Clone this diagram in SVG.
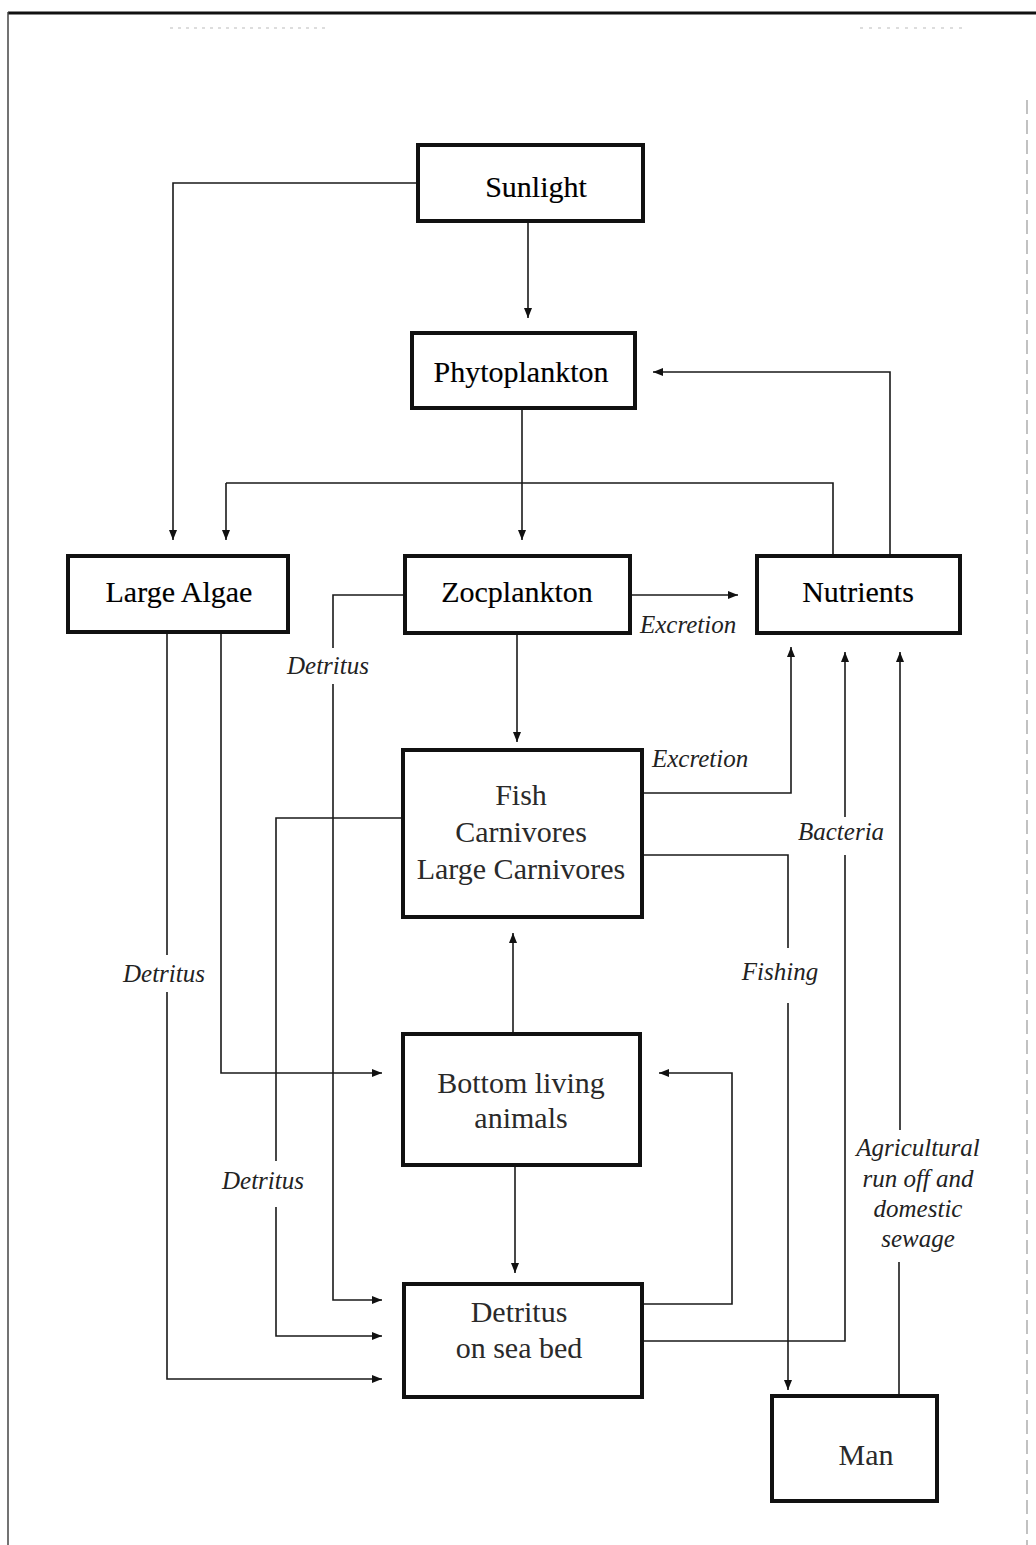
<svg xmlns="http://www.w3.org/2000/svg" width="1036" height="1545" viewBox="0 0 1036 1545">
<defs>
<marker id="ah" markerUnits="userSpaceOnUse" markerWidth="10" markerHeight="8" refX="10" refY="4" orient="auto">
<path d="M0,0 L10,4 L0,8 z" fill="#111"/>
</marker>
<style>
.box{fill:#fff;stroke:#111;stroke-width:4}
.lbl{font-family:"Liberation Serif","Times New Roman",serif;font-size:30px;fill:#000;stroke:#000;stroke-width:0.15;text-anchor:middle}
.lbl2{font-family:"Liberation Serif","Times New Roman",serif;font-size:30px;fill:#2a2a2a;text-anchor:middle}
.el{font-family:"Liberation Serif","Times New Roman",serif;font-size:25px;font-style:italic;fill:#222}
.c{fill:none;stroke:#1a1a1a;stroke-width:1.6}
.a{fill:none;stroke:#1a1a1a;stroke-width:1.6;marker-end:url(#ah)}
</style>
</defs>
<rect x="0" y="0" width="1036" height="1545" fill="#fff"/>
<g id="frame">
<line x1="8" y1="13" x2="1036" y2="13" stroke="#111" stroke-width="3"/>
<line x1="8" y1="12" x2="8" y2="1545" stroke="#444" stroke-width="1.5"/>
<line x1="1027" y1="100" x2="1027" y2="1545" stroke="#999" stroke-width="1.2" stroke-dasharray="14 6"/>
<line x1="170" y1="28" x2="330" y2="28" stroke="#bbb" stroke-width="1" stroke-dasharray="3 5"/>
<line x1="860" y1="28" x2="965" y2="28" stroke="#bbb" stroke-width="1" stroke-dasharray="3 6"/>
</g>
<g id="connectors">
<polyline class="a" points="418,183 173,183 173,540"/>
<polyline class="a" points="528,221 528,318"/>
<polyline class="a" points="522,408 522,540"/>
<polyline class="c" points="833,556 833,483 226,483"/>
<polyline class="a" points="226,483 226,540"/>
<polyline class="a" points="890,556 890,372 653,372"/>
<polyline class="a" points="630,595 738,595"/>
<polyline class="a" points="517,633 517,742"/>
<polyline class="c" points="405,595 333,595 333,648"/>
<polyline class="a" points="333,684 333,1300 382,1300"/>
<polyline class="a" points="221,632 221,1073 382,1073"/>
<polyline class="c" points="167,632 167,955"/>
<polyline class="a" points="167,992 167,1379 382,1379"/>
<polyline class="c" points="403,818 276,818 276,1161"/>
<polyline class="a" points="276,1207 276,1336 382,1336"/>
<polyline class="a" points="642,793 791,793 791,647"/>
<polyline class="c" points="642,855 788,855 788,948"/>
<polyline class="a" points="788,1003 788,1390"/>
<polyline class="a" points="513,1033 513,933"/>
<polyline class="a" points="515,1165 515,1273"/>
<polyline class="a" points="642,1304 732,1304 732,1073 659,1073"/>
<polyline class="c" points="642,1341 845,1341 845,855"/>
<polyline class="a" points="845,817 845,652"/>
<polyline class="c" points="899,1395 899,1262"/>
<polyline class="a" points="900,1130 900,652"/>
<text class="el" x="640" y="633">Excretion</text>
<text class="el" x="328" y="674" text-anchor="middle">Detritus</text>
<text class="el" x="652" y="767">Excretion</text>
<text class="el" x="798" y="840">Bacteria</text>
<text class="el" x="164" y="982" text-anchor="middle">Detritus</text>
<text class="el" x="780" y="980" text-anchor="middle">Fishing</text>
<text class="el" x="263" y="1189" text-anchor="middle">Detritus</text>
<text class="el" x="918" y="1156" text-anchor="middle">Agricultural</text>
<text class="el" x="918" y="1187" text-anchor="middle">run off and</text>
<text class="el" x="918" y="1217" text-anchor="middle">domestic</text>
<text class="el" x="918" y="1247" text-anchor="middle">sewage</text>
</g>
<g id="sunlight">
<rect class="box" x="418" y="145" width="225" height="76"/>
<text class="lbl" x="536" y="197">Sunlight</text>
</g>
<g id="phytoplankton">
<rect class="box" x="412" y="333" width="223" height="75"/>
<text class="lbl" x="521" y="382">Phytoplankton</text>
</g>
<g id="large-algae">
<rect class="box" x="68" y="556" width="220" height="76"/>
<text class="lbl" x="179" y="602">Large Algae</text>
</g>
<g id="zooplankton">
<rect class="box" x="405" y="556" width="225" height="77"/>
<text class="lbl" x="517" y="602">Zocplankton</text>
</g>
<g id="nutrients">
<rect class="box" x="757" y="556" width="203" height="77"/>
<text class="lbl" x="858" y="602">Nutrients</text>
</g>
<g id="fish">
<rect class="box" x="403" y="750" width="239" height="167"/>
<text class="lbl2" x="521" y="805">Fish</text>
<text class="lbl2" x="521" y="842">Carnivores</text>
<text class="lbl2" x="521" y="879">Large Carnivores</text>
</g>
<g id="bottom-living">
<rect class="box" x="403" y="1034" width="237" height="131"/>
<text class="lbl2" x="521" y="1093">Bottom living</text>
<text class="lbl2" x="521" y="1128">animals</text>
</g>
<g id="detritus-sea-bed">
<rect class="box" x="404" y="1284" width="238" height="113"/>
<text class="lbl2" x="519" y="1322">Detritus</text>
<text class="lbl2" x="519" y="1358">on sea bed</text>
</g>
<g id="man">
<rect class="box" x="772" y="1396" width="165" height="105"/>
<text class="lbl2" x="866" y="1465">Man</text>
</g>
</svg>
